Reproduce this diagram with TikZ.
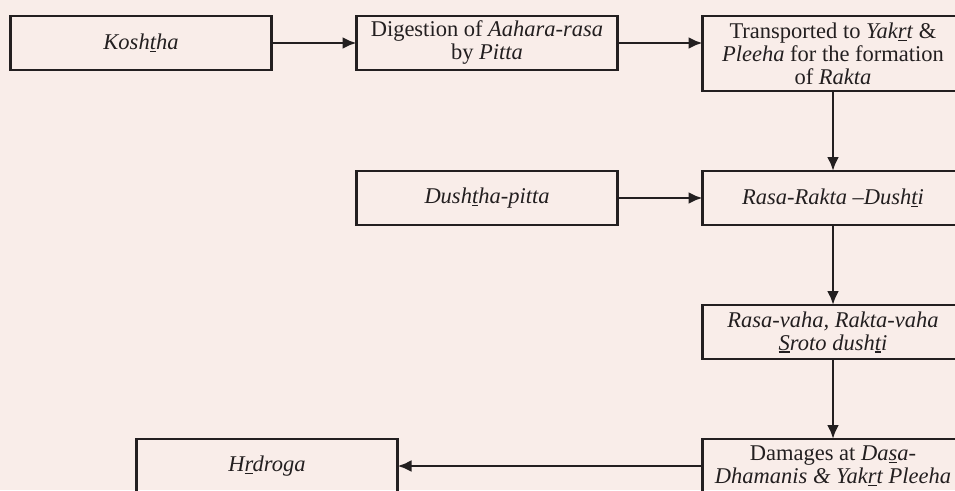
\documentclass[tikz,border=0pt]{standalone}
\usepackage{fontspec}
\setmainfont{Liberation Serif}
\usepackage{tikz}
\usetikzlibrary{arrows.meta,positioning}
\definecolor{bgpink}{RGB}{249,237,233}
\definecolor{inkgray}{RGB}{35,31,32}
\newcommand{\ubar}[1]{\setbox0\hbox{#1}\rlap{\rule[-2.6pt]{\wd0}{1.2pt}}#1}

\begin{document}
\begin{tikzpicture}[every node/.style={rectangle,draw=inkgray,line width=2.9pt,text=inkgray,minimum width=261pt,minimum height=54pt,inner sep=4.5pt,outer sep=0pt,align=center,font=\fontsize{22.5}{23}\selectfont}, >={Latex[length=14pt,width=12pt]}, line width=2.9pt, color=inkgray, node distance=80pt and 85pt]
				\path[use as bounding box, fill=bgpink] (-141pt,43pt) rectangle (814pt,-447pt);
				\clip (-141pt,43pt) rectangle (814pt,-447pt);
				\node (koshtha) at (0,0) {\textit{Kosh\ubar{t}ha}};
				\node (digestion) [right=of koshtha] {Digestion of \textit{Aahara-rasa}\\by \textit{Pitta}};
				\node (transport) [right=of digestion.north east, anchor=north west, minimum height=75pt] {Transported to \textit{Yak\ubar{r}t} \&\\\textit{Pleeha} for the formation\\of \textit{Rakta}};
				\node (rasarakta) [below=of transport] {\textit{Rasa-Rakta --Dush\ubar{t}i}};
				\node (dushtha) [left=of rasarakta] {\textit{Dush\ubar{t}ha-pitta}};
				\node (srotas) [below=of rasarakta] {\textit{Rasa-vaha, Rakta-vaha}\\\textit{\ubar{S}roto dush\ubar{t}i}};
				\node (damages) [below=of srotas] {Damages at \textit{Da\ubar{s}a-}\\\textit{Dhamanis \& Yak\ubar{r}t Pleeha}};
				\node (hrdroga) [left=305pt of damages] {\textit{H\ubar{r}droga}};
				\draw [->] (koshtha) -- (digestion);
				\draw [->] (digestion.east) -- (digestion.east -| transport.west);
				\draw [->] (transport) -- (rasarakta);
				\draw [->] (dushtha) -- (rasarakta);
				\draw [->] (rasarakta) -- (srotas);
				\draw [->] (srotas) -- (damages);
				\draw [->] (damages) -- (hrdroga);
			\end{tikzpicture}
\end{document}
